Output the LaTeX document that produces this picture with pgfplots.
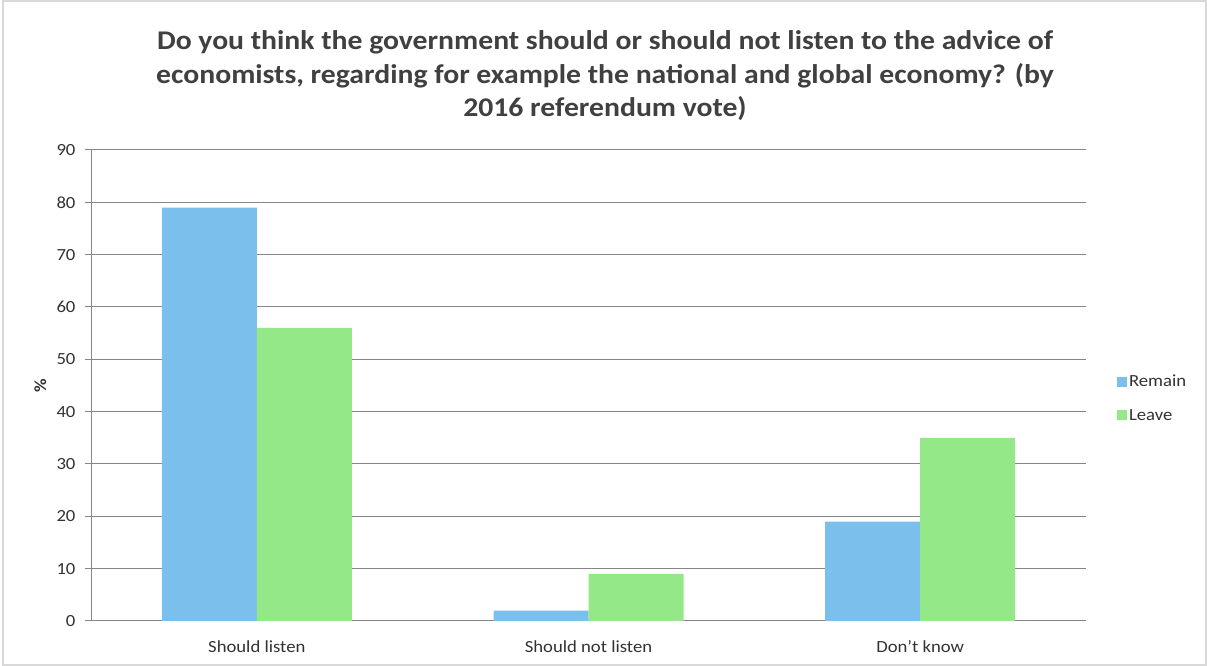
\documentclass[border=0pt]{standalone}
\usepackage{pgfplots}
\pgfplotsset{compat=1.18}
\usepackage{fontspec}
\setmainfont{Carlito}[FakeStretch=1.1]
\definecolor{remain}{RGB}{123,192,236}
\definecolor{leave}{RGB}{149,232,135}
\definecolor{gridc}{RGB}{134,134,134}
\definecolor{txt}{RGB}{50,50,50}
\definecolor{titlec}{RGB}{64,64,64}
\definecolor{framec}{RGB}{217,217,217}
\begin{document}
\begin{tikzpicture}
\useasboundingbox (0,0) rectangle (1207pt,666pt);
\draw[framec, line width=1.5pt] (3pt,1pt) rectangle (1206pt,665pt);
\node[font=\fontsize{27}{33.5}\selectfont\bfseries, text=titlec, align=center] at (605pt,590pt)
  {Do you think the government should or should not listen to the advice of\\
   economists, regarding for example the national and global economy? (by\\
   2016 referendum vote)};
\begin{axis}[
  at={(91pt,45pt)}, anchor=south west,
  scale only axis, width=995pt, height=471pt,
  ybar=0pt, bar width=95pt,
  xmin=-0.5, xmax=2.5, ymin=0, ymax=90,
  xtick={0,1,2},
  xticklabels={Should listen, Should not listen, Don’t know},
  minor xtick={-0.5,0.5,1.5,2.5},
  ytick={0,10,...,90},
  axis x line*=bottom, axis y line*=left,
  axis line style={gridc, line width=1pt, -},
  tick align=outside,
  major tick length=6pt,
  minor tick length=6pt,
  xtick style={draw=none},
  ytick style={gridc, line width=1pt},
  every minor tick/.style={gridc, line width=1pt, draw=gridc},
  ymajorgrids, grid style={gridc, line width=1pt},
  /pgf/number format/assume math mode=true,
  tick label style={font=\fontsize{17}{20}\selectfont, text=txt},
  xticklabel style={yshift=-10pt},
  yticklabel style={xshift=-6pt},
  ylabel={\textbf{\%}},
  ylabel style={at={(axis description cs:-0.051,0.5)}, anchor=center, font=\fontsize{17}{20}\selectfont, text=txt},
  legend style={at={(1.031,0.473)}, anchor=west, draw=none, fill=none,
    font=\fontsize{17}{20}\selectfont, text=txt, row sep=17pt, inner sep=0pt,
    nodes={inner sep=2pt, xshift=2pt}},
  legend cell align=left,
  legend image code/.code={\fill[#1] (0pt,-5pt) rectangle (10pt,5pt);},
]
\addplot[fill=remain, draw=none] coordinates {(0,79) (1,2) (2,19)};
\addplot[fill=leave, draw=none] coordinates {(0,56) (1,9) (2,35)};
\legend{Remain, Leave}
\end{axis}
\end{tikzpicture}
\end{document}
